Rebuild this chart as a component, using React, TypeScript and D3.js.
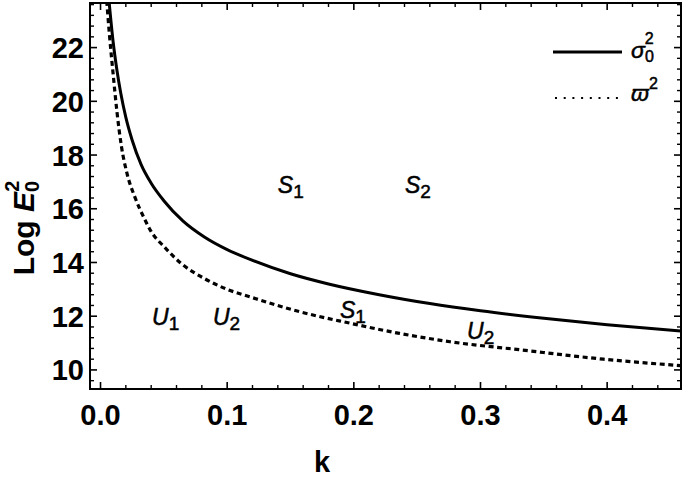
import React, { useEffect, useRef } from "react";
import * as d3 from "d3";

// solid curve: sigma_0^2
const kSigma = [0.0067, 0.01, 0.013, 0.016, 0.02, 0.025, 0.032, 0.04, 0.05, 0.065, 0.082, 0.1, 0.12, 0.15, 0.18, 0.22, 0.26, 0.3, 0.35, 0.4, 0.458];
const sigmaVals = [23.74, 22.2, 21.15, 20.3, 19.4, 18.55, 17.65, 16.95, 16.3, 15.55, 14.95, 14.48, 14.08, 13.58, 13.2, 12.8, 12.47, 12.2, 11.92, 11.68, 11.45];

// dashed curve: varpi^2
const kVarpi = [0.0049, 0.007, 0.01, 0.013, 0.0166, 0.021, 0.027, 0.035, 0.04, 0.05, 0.064, 0.0825, 0.1, 0.118, 0.157, 0.197, 0.236, 0.276, 0.333, 0.397, 0.458];
const varpiVals = [23.74, 22.5, 21.0, 19.6, 18.3, 17.3, 16.45, 15.6, 15.15, 14.6, 13.95, 13.39, 13.0, 12.72, 12.17, 11.74, 11.36, 11.05, 10.74, 10.4, 10.16];

const xTicks = [0, 0.1, 0.2, 0.3, 0.4];
const xTickLabels = ["0.0", "0.1", "0.2", "0.3", "0.4"];
const yTicks = [10, 12, 14, 16, 18, 20, 22];

// region labels: [letter, subscript, k, value]
const regionLabels = [
  ["S", "1", 0.14, 16.6],
  ["S", "2", 0.2404, 16.6],
  ["U", "1", 0.0407, 11.67],
  ["U", "2", 0.0888, 11.67],
  ["S", "1", 0.189, 11.93],
  ["U", "2", 0.2894, 11.15],
];

const FONT = "'Liberation Sans', Arial, sans-serif";

const App = () => {
  const svgRef = useRef();
  const width = 685;
  const height = 479;
  const frame = { left: 90, right: 681, top: 3, bottom: 389 };

  useEffect(() => {
    const svg = d3.select(svgRef.current);
    svg.selectAll("*").remove();

    const x = d3.scaleLinear().domain([-0.0083, 0.4583]).range([frame.left, frame.right]);
    const y = d3.scaleLinear().domain([9.29, 23.66]).range([frame.bottom, frame.top]);

    svg.append("defs")
      .append("clipPath")
      .attr("id", "plotclip")
      .append("rect")
      .attr("x", frame.left)
      .attr("y", frame.top)
      .attr("width", frame.right - frame.left)
      .attr("height", frame.bottom - frame.top);

    // curves
    const line = d3.line().x((d) => x(d[0])).y((d) => y(d[1])).curve(d3.curveMonotoneX);
    const plot = svg.append("g").attr("clip-path", "url(#plotclip)");

    plot.append("path")
      .attr("d", line(kSigma.map((k, i) => [k, sigmaVals[i]])))
      .attr("fill", "none")
      .attr("stroke", "#000")
      .attr("stroke-width", 3);

    plot.append("path")
      .attr("d", line(kVarpi.map((k, i) => [k, varpiVals[i]])))
      .attr("fill", "none")
      .attr("stroke", "#000")
      .attr("stroke-width", 3.2)
      .attr("stroke-dasharray", "5,3.6");

    // frame
    svg.append("rect")
      .attr("x", frame.left)
      .attr("y", frame.top)
      .attr("width", frame.right - frame.left)
      .attr("height", frame.bottom - frame.top)
      .attr("fill", "none")
      .attr("stroke", "#000")
      .attr("stroke-width", 2);

    // ticks on all four sides, pointing inward
    const xMinor = d3.range(0, 0.45, 0.02).filter((v) => !xTicks.some((t) => Math.abs(t - v) < 1e-6));
    const yMinor = d3.range(9.6, 23.66, 0.4).filter((v) => !yTicks.some((t) => Math.abs(t - v) < 1e-6));
    const tg = svg.append("g").attr("stroke", "#000");
    const addX = (vals, len, w) => {
      vals.forEach((v) => {
        tg.append("line").attr("x1", x(v)).attr("x2", x(v)).attr("y1", frame.bottom).attr("y2", frame.bottom - len).attr("stroke-width", w);
        tg.append("line").attr("x1", x(v)).attr("x2", x(v)).attr("y1", frame.top).attr("y2", frame.top + len).attr("stroke-width", w);
      });
    };
    const addY = (vals, len, w) => {
      vals.forEach((v) => {
        tg.append("line").attr("x1", frame.left).attr("x2", frame.left + len).attr("y1", y(v)).attr("y2", y(v)).attr("stroke-width", w);
        tg.append("line").attr("x1", frame.right).attr("x2", frame.right - len).attr("y1", y(v)).attr("y2", y(v)).attr("stroke-width", w);
      });
    };
    addX(xTicks, 7, 1.6);
    addX(xMinor, 4, 1.4);
    addY(yTicks, 7, 1.6);
    addY(yMinor, 4, 1.4);

    // tick labels
    svg.append("g")
      .selectAll("text")
      .data(xTicks)
      .enter()
      .append("text")
      .attr("x", (d) => x(d))
      .attr("y", 425)
      .attr("text-anchor", "middle")
      .style("font-family", FONT)
      .style("font-weight", "bold")
      .style("font-size", "29px")
      .text((d, i) => xTickLabels[i]);

    svg.append("g")
      .selectAll("text")
      .data(yTicks)
      .enter()
      .append("text")
      .attr("x", 84)
      .attr("y", (d) => y(d) + 10.5)
      .attr("text-anchor", "end")
      .style("font-family", FONT)
      .style("font-weight", "bold")
      .style("font-size", "29px")
      .text((d) => d);

    // axis titles
    svg.append("text")
      .attr("x", 322)
      .attr("y", 472)
      .attr("text-anchor", "middle")
      .style("font-family", FONT)
      .style("font-weight", "bold")
      .style("font-size", "29px")
      .text("k");

    const yt = svg.append("text")
      .attr("transform", "translate(34,228) rotate(-90)")
      .attr("text-anchor", "middle")
      .style("font-family", FONT)
      .style("font-weight", "bold")
      .style("font-size", "30px");
    yt.append("tspan").text("Log ");
    yt.append("tspan").style("font-style", "italic").text("E");
    yt.append("tspan").attr("dy", 5).style("font-size", "20px").text("0");
    yt.append("tspan").attr("dx", -11).attr("dy", -20).style("font-size", "20px").text("2");

    // region labels
    regionLabels.forEach(([letter, sub, k, v]) => {
      const t = svg.append("text")
        .attr("x", x(k))
        .attr("y", y(v))
        .style("font-family", FONT)
        .style("font-style", "italic")
        .style("font-size", "23px")
        .attr("stroke", "#000")
        .attr("stroke-width", 0.5);
      t.append("tspan").text(letter);
      t.append("tspan").attr("dy", 5).style("font-size", "19px").style("font-style", "normal").text(sub);
    });

    // legend
    const lg = svg.append("g");
    lg.append("line")
      .attr("x1", 553).attr("x2", 622).attr("y1", 52).attr("y2", 52)
      .attr("stroke", "#000").attr("stroke-width", 3.2);
    lg.append("line")
      .attr("x1", 555).attr("x2", 622).attr("y1", 98).attr("y2", 98)
      .attr("stroke", "#000").attr("stroke-width", 2).attr("stroke-dasharray", "2,6.7");

    const l1 = lg.append("text")
      .attr("x", 631).attr("y", 58)
      .style("font-family", FONT)
      .style("font-size", "23px")
      .attr("stroke", "#000")
      .attr("stroke-width", 0.5);
    l1.append("tspan").style("font-style", "italic").text("σ");
    l1.append("tspan").attr("dy", 4).style("font-size", "16px").text("0");
    l1.append("tspan").attr("dx", -9).attr("dy", -18).style("font-size", "16px").text("2");

    const l2 = lg.append("text")
      .attr("x", 631).attr("y", 101)
      .style("font-family", FONT)
      .style("font-size", "23px")
      .attr("stroke", "#000")
      .attr("stroke-width", 0.5);
    l2.append("tspan").style("font-style", "italic").text("ϖ");
    l2.append("tspan").attr("dy", -12).style("font-size", "16px").text("2");
  }, []);

  return (
    <svg
      ref={svgRef}
      width={width}
      height={height}
      style={{ position: "absolute", left: 0, top: 0, background: "#fff" }}
    ></svg>
  );
};

export default App;
